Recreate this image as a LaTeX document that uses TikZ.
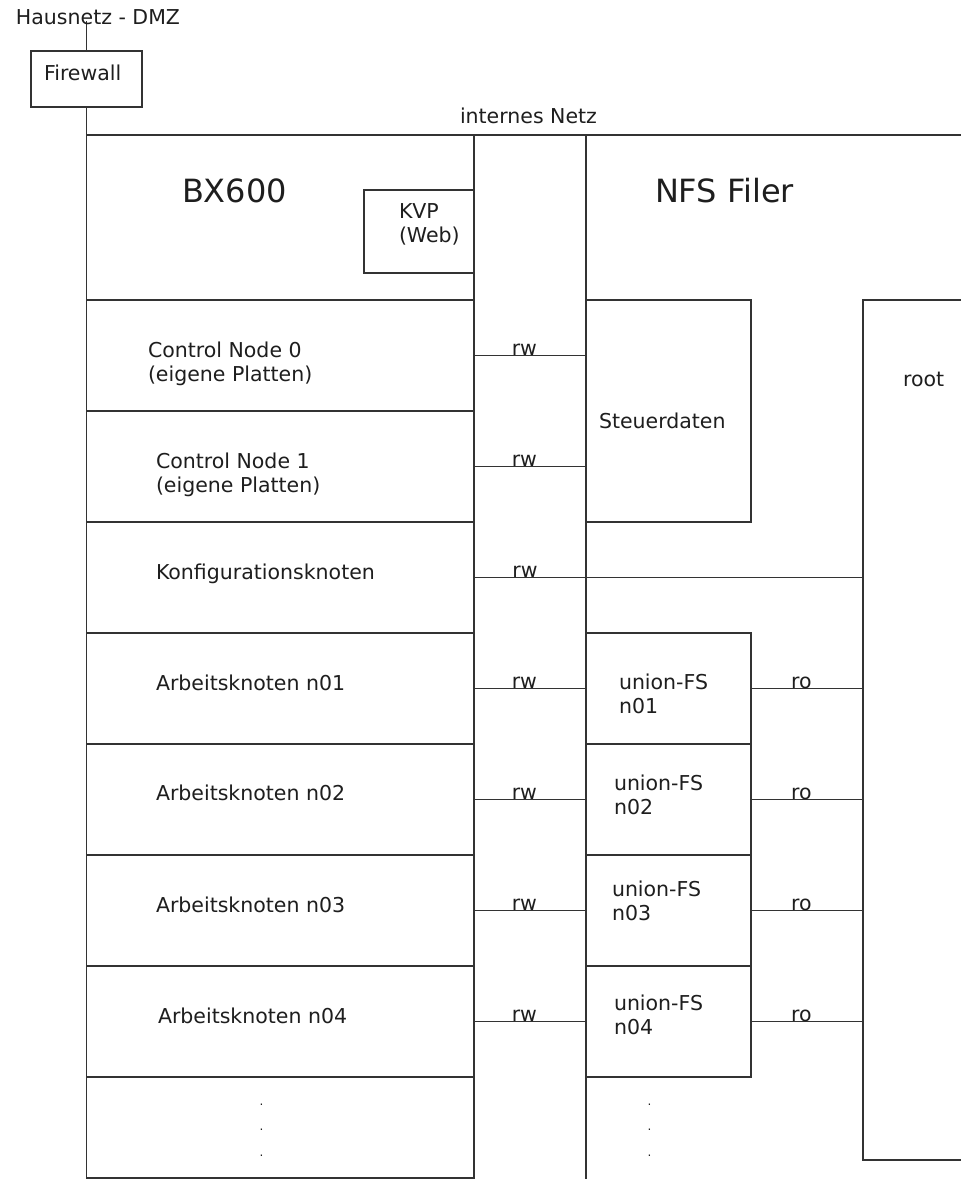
\documentclass[tikz,border=0pt]{standalone}
\usepackage{fontspec}
\setmainfont{DejaVu Sans}
\definecolor{linec}{HTML}{333333}
\definecolor{textc}{HTML}{1E1E1E}
\newcommand\fsnorm{\fontsize{20.5pt}{24.5pt}\selectfont}
\newcommand\fsbig{\fontsize{32pt}{38pt}\selectfont}
\newcommand\fsdot{\fontsize{12pt}{25.5pt}\selectfont}
\newcommand\twol[2]{\begin{tabular}[t]{@{}l@{}}#1\\#2\end{tabular}}
\newcommand\threedots{\begin{tabular}[t]{@{}l@{}}.\\.\\.\end{tabular}}
\begin{document}
\begin{tikzpicture}[x=1pt,y=-1pt,
  every node/.style={inner sep=0pt, outer sep=0pt},
  cell/.style={draw=linec, line width=1.3pt, rectangle, anchor=north west},
  lbl/.style={text=textc, font=\fsnorm, anchor=base west},
  big/.style={text=textc, font=\fsbig, anchor=base west},
  dots/.style={text=textc, font=\fsdot, anchor=base west},
  wire/.style={draw=linec, line width=1.3pt},
  acc/.style={text=textc, font=\fsnorm, anchor=base, pos=0.45}
]
\useasboundingbox (0,0) rectangle (961,1179);
\fill[white] (0,0) rectangle (961,1179);
\clip (0,0) rectangle (961,1179);

% firewall and outer network
\node[cell, minimum width=111pt, minimum height=56pt] (fw) at (31,51) {};
\coordinate (hausend) at (86.5,21);
\coordinate (netend) at (975,135);

% BX600 column
\node[cell, minimum width=387.5pt, minimum height=165pt] (bx) at (86.5,135) {};
\node[cell, minimum width=387.5pt, minimum height=111pt] (r1) at (86.5,300) {};
\node[cell, minimum width=387.5pt, minimum height=111pt] (r2) at (86.5,411) {};
\node[cell, minimum width=387.5pt, minimum height=111pt] (r3) at (86.5,522) {};
\node[cell, minimum width=387.5pt, minimum height=111pt] (r4) at (86.5,633) {};
\node[cell, minimum width=387.5pt, minimum height=111pt] (r5) at (86.5,744) {};
\node[cell, minimum width=387.5pt, minimum height=111pt] (r6) at (86.5,855) {};
\node[cell, minimum width=387.5pt, minimum height=111pt] (r7) at (86.5,966) {};
\node[cell, minimum width=387.5pt, minimum height=101pt] (r8) at (86.5,1077) {};
\node[cell, minimum width=110pt, minimum height=83pt] (kvp) at (364,190) {};

% internes Netz column
\node[cell, minimum width=112pt, minimum height=1080pt] (net) at (474,135) {};

% NFS filer
\node[cell, minimum width=165pt, minimum height=222pt] (steuer) at (586,300) {};
\node[cell, minimum width=165pt, minimum height=111pt] (u1) at (586,633) {};
\node[cell, minimum width=165pt, minimum height=111pt] (u2) at (586,744) {};
\node[cell, minimum width=165pt, minimum height=111pt] (u3) at (586,855) {};
\node[cell, minimum width=165pt, minimum height=111pt] (u4) at (586,966) {};
\node[cell, minimum width=130pt, minimum height=860pt] (root) at (863,300) {};

% network lines
\draw[wire] (hausend) -- (fw.north);
\draw[wire] (fw.south) -- (bx.north west) -- (netend);

% rw / ro connections
\draw[wire] (r1.east) -- node[acc] (rw1) {rw} (steuer.west |- r1.east);
\draw[wire] (r2.east) -- node[acc] (rw2) {rw} (steuer.west |- r2.east);
\draw[wire] (r3.east) -- node[acc, pos=0.131] (rw3) {rw} (root.west |- r3.east);
\draw[wire] (r4.east) -- node[acc] (rw4) {rw} (u1.west);
\draw[wire] (r5.east) -- node[acc] (rw5) {rw} (u2.west);
\draw[wire] (r6.east) -- node[acc] (rw6) {rw} (u3.west);
\draw[wire] (r7.east) -- node[acc] (rw7) {rw} (u4.west);
\draw[wire] (u1.east) -- node[acc] (ro1) {ro} (root.west |- u1.east);
\draw[wire] (u2.east) -- node[acc] (ro2) {ro} (root.west |- u2.east);
\draw[wire] (u3.east) -- node[acc] (ro3) {ro} (root.west |- u3.east);
\draw[wire] (u4.east) -- node[acc] (ro4) {ro} (root.west |- u4.east);

% labels
\node[lbl] (thaus) at (16,24) {Hausnetz - DMZ};
\node[lbl] (tfw) at (44,80) {Firewall};
\node[lbl] (tnet) at (460,123) {internes Netz};
\node[big] (tbx) at (182,202) {BX600};
\node[lbl] (tkvp) at (399,218) {\twol{KVP}{(Web)}};
\node[big] (tnfs) at (655,202) {NFS Filer};
\node[lbl] (tc0) at (148,357) {\twol{Control Node 0}{(eigene Platten)}};
\node[lbl] (tc1) at (156,468) {\twol{Control Node 1}{(eigene Platten)}};
\node[lbl] (tst) at (599,428) {Steuerdaten};
\node[lbl] (troot) at (903,386) {root};
\node[lbl] (tkonf) at (156,579) {Konfigurationsknoten};
\node[lbl] (ta1) at (156,690) {Arbeitsknoten n01};
\node[lbl] (ta2) at (156,800) {Arbeitsknoten n02};
\node[lbl] (ta3) at (156,912) {Arbeitsknoten n03};
\node[lbl] (ta4) at (158,1023) {Arbeitsknoten n04};
\node[lbl] (tu1) at (619,689) {\twol{union-FS}{n01}};
\node[lbl] (tu2) at (614,790) {\twol{union-FS}{n02}};
\node[lbl] (tu3) at (612,896) {\twol{union-FS}{n03}};
\node[lbl] (tu4) at (614,1010) {\twol{union-FS}{n04}};
\node[dots] (dl) at (259.5,1105) {\threedots};
\node[dots] (dm) at (647.5,1105) {\threedots};
\end{tikzpicture}
\end{document}
